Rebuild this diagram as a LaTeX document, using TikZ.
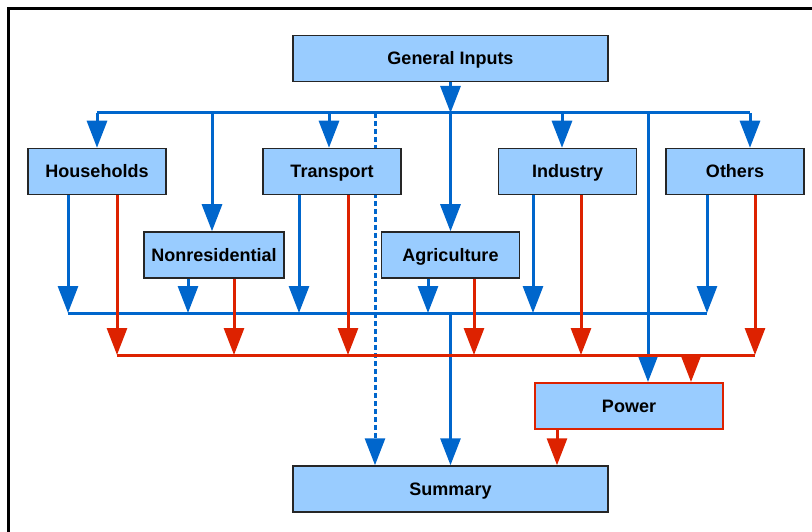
\documentclass[tikz,border=0pt]{standalone}
\usepackage{fontspec}
\setmainfont{Liberation Sans}
\usetikzlibrary{arrows.meta,backgrounds}
\definecolor{lnblue}{HTML}{0066CC}
\definecolor{lnred}{HTML}{DD2200}
\definecolor{boxfill}{HTML}{99CCFF}
\tikzset{
  box/.style  ={draw=black!85, fill=boxfill, line width=1.5pt, minimum height=46pt,
                inner sep=0pt, text height=17pt, text depth=4pt,
                font=\fontsize{18}{20}\selectfont\bfseries},
  wide/.style ={box, minimum width=315pt},
  sect/.style ={box, minimum width=138pt},
  pwr/.style  ={box, draw=lnred, line width=2pt, minimum width=188pt},
  bbus/.style ={draw=lnblue, line width=3pt},
  rbus/.style ={draw=lnred, line width=3pt},
  bfl/.style  ={bbus, -{Triangle[length=27pt,width=20pt]}},
  rfl/.style  ={rbus, -{Triangle[length=27pt,width=20pt]}},
  dfl/.style  ={bfl, dash pattern=on 5pt off 3pt},
}

\begin{document}
\begin{tikzpicture}[x=1pt,y=-1pt]
  \useasboundingbox (0,0) rectangle (812,532);
  \draw[line width=2.5pt] (8.5,545) -- (8.5,8.5) -- (825,8.5);

  % boxes
  \node[wide] (gen)  at (450.5,58.5)  {General Inputs};
  \node[sect] (hh)   at (97,171.5)    {Households};
  \node[sect] (tr)   at (332,171.5)   {Transport};
  \node[sect] (ind)  at (567.5,171.5) {Industry};
  \node[sect] (oth)  at (735,171.5)   {Others};
  \node[sect, minimum width=140pt] (nres) at (214,255) {Nonresidential};
  \node[sect] (agr)  at (450.5,255)   {Agriculture};
  \node[pwr]  (pow)  at (629,406)     {Power};
  \node[wide] (sum)  at (450.5,489)   {Summary};

  % input bus
  \coordinate (ib-w) at (97,113);
  \coordinate (ib-e) at (750,113);
  \draw[bbus] (ib-w) -- (ib-e);
  \draw[bfl] (gen.south) -- (gen.south |- ib-w);
  \coordinate (ibagr) at (gen.south |- ib-w);
  \foreach \x/\n in {97/hh, 212/nres, 329/tr, 562/ind, 750/oth, 648/pow}{
    \coordinate (ib\n) at (\x,113);
  }
  \foreach \n in {hh, nres, tr, agr, ind, oth, pow}
    \draw[bfl] (ib\n) -- (ib\n |- \n.north);
  % dotted bypass runs behind Transport
  \coordinate (ibsum) at (375,113);
  \begin{scope}[on background layer]
    \draw[dfl] (ibsum) -- (ibsum |- sum.north);
  \end{scope}

  % blue output bus
  \coordinate (ob-w) at (68,313);
  \coordinate (ob-e) at (707,313);
  \draw[bbus] (ob-w) -- (ob-e);
  \foreach \x/\n in {68/hh, 188/nres, 299/tr, 428/agr, 533/ind, 707/oth}{
    \coordinate (ob\n) at (\x,313);
    \draw[bfl] (ob\n |- \n.south) -- (ob\n);
  }
  \coordinate (obsum) at (gen.south |- ob-w);
  \draw[bfl] (obsum) -- (obsum |- sum.north);

  % red bus
  \coordinate (rb-w) at (117,355);
  \coordinate (rb-e) at (755,355);
  \draw[rbus] (rb-w) -- (rb-e);
  \foreach \x/\n in {117/hh, 234/nres, 348/tr, 474/agr, 581/ind, 755/oth}{
    \coordinate (rb\n) at (\x,355);
    \draw[rfl] (rb\n |- \n.south) -- (rb\n);
  }
  \coordinate (rbpow) at (691,355);
  \draw[rfl] (rbpow) -- (rbpow |- pow.north);
  \coordinate (pwout) at ([xshift=-72pt]pow.south);
  \draw[rfl] (pwout) -- (pwout |- sum.north);
\end{tikzpicture}
\end{document}
